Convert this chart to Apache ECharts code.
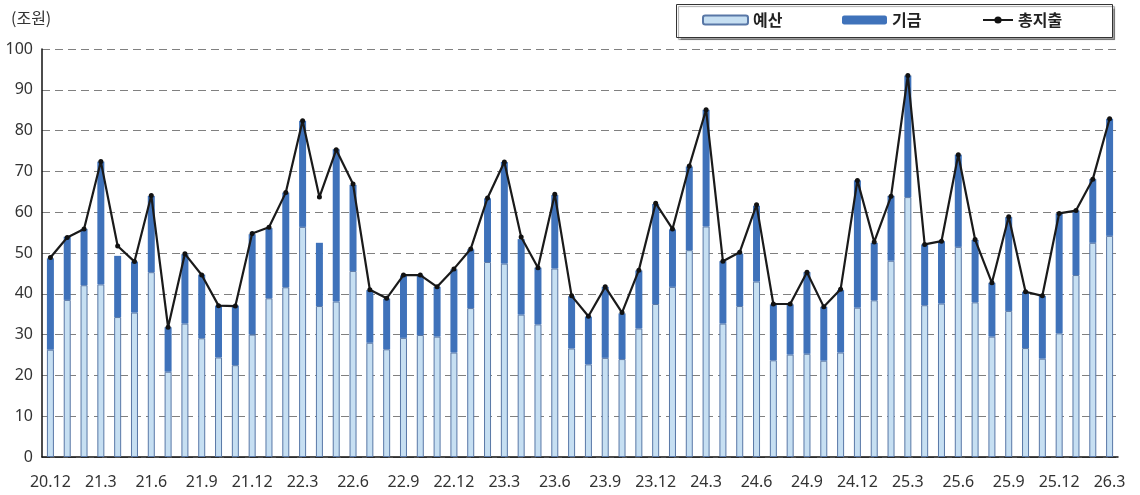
<!DOCTYPE html>
<html>
<head>
<meta charset="utf-8">
<script src="https://cdn.jsdelivr.net/npm/echarts@6/dist/echarts.min.js"></script>
<style>
html,body{margin:0;padding:0;background:#fff;}
#c{width:1140px;height:495px;}
</style>
</head>
<body>
<div id="c"></div>
<script>
const categories = ['20.12','21.1','21.2','21.3','21.4','21.5','21.6','21.7','21.8','21.9','21.10','21.11','21.12',
'22.1','22.2','22.3','22.4','22.5','22.6','22.7','22.8','22.9','22.10','22.11','22.12',
'23.1','23.2','23.3','23.4','23.5','23.6','23.7','23.8','23.9','23.10','23.11','23.12',
'24.1','24.2','24.3','24.4','24.5','24.6','24.7','24.8','24.9','24.10','24.11','24.12',
'25.1','25.2','25.3','25.4','25.5','25.6','25.7','25.8','25.9','25.10','25.11','25.12',
'26.1','26.2','26.3'];
const budget = [26.3,38.5,42.1,42.3,34.3,35.4,45.3,20.9,32.7,29.1,24.4,22.5,30.0,
38.9,41.6,56.4,37.0,38.1,45.6,28.0,26.4,29.2,29.9,29.5,25.6,
36.5,47.8,47.4,34.9,32.5,46.2,26.6,22.7,24.3,24.0,31.5,37.5,
41.7,50.7,56.5,32.7,37.0,43.0,23.7,25.1,25.3,23.6,25.6,36.6,
38.4,48.1,63.7,37.2,37.6,51.5,37.9,29.5,35.8,26.7,24.1,30.3,
44.6,52.5,54.2];
const fund = [22.4,15.5,13.8,30.1,15.0,12.5,18.7,10.9,17.0,15.6,12.7,14.6,24.6,
17.2,23.2,26.0,15.5,37.3,21.1,12.9,12.4,15.3,14.6,12.2,20.4,
14.4,15.6,24.9,18.5,13.9,18.0,12.8,11.7,17.4,11.2,14.2,24.5,
14.1,20.5,28.6,15.3,12.9,18.6,13.7,12.3,20.0,13.2,15.3,31.2,
14.1,15.9,29.8,14.9,15.3,22.6,15.3,13.2,23.0,13.8,15.4,29.4,
15.8,15.6,28.7];
const total = [48.9,53.8,55.9,72.4,51.7,47.9,64.1,31.8,49.8,44.6,37.1,37.0,54.8,
56.3,64.8,82.4,63.7,75.3,66.9,41.0,38.9,44.6,44.6,41.7,46.1,
51.0,63.5,72.3,53.9,46.4,64.4,39.5,34.5,41.7,35.4,45.8,62.2,
55.9,71.3,85.1,48.0,50.2,61.8,37.5,37.5,45.3,36.8,41.1,67.8,
52.7,63.9,93.5,52.1,52.9,74.1,53.3,42.7,58.9,40.5,39.5,59.7,
60.4,68.1,82.9];
const yTicks = [0,10,20,30,40,50,60,70,80,90,100];
const seriesNames = ['예산','기금','총지출'];
const unitLabel = '(조원)';

const chart = echarts.init(document.getElementById('c'), null, {renderer:'canvas'});
const baseFont = "'Noto Sans', 'Noto Sans CJK KR', sans-serif";
const legendText = {fontFamily:"'Noto Sans CJK KR', sans-serif", fontSize:16, fontWeight:'bold', color:'#222'};
chart.setOption({
  animation:false,
  backgroundColor:'#fff',
  graphic:[
    {type:'rect', left:676, top:4, shape:{width:436, height:33},
     style:{fill:'#fff', stroke:'#333', lineWidth:1, shadowColor:'rgba(0,0,0,0.35)', shadowOffsetX:2, shadowOffsetY:2, shadowBlur:1}, z:-1},
    {type:'text', left:11, top:10, style:{text:unitLabel, fontSize:16, fontFamily:"'Noto Sans CJK KR', sans-serif", fill:'#333'}}
  ],
  legend:[
    {data:[seriesNames[0]], left:702, top:12, padding:0, itemWidth:45, itemHeight:9, itemGap:10, textStyle:legendText, z:10},
    {data:[seriesNames[1]], left:842, top:12, padding:0, itemWidth:45, itemHeight:9, itemGap:10, textStyle:legendText, z:10},
    {data:[seriesNames[2]], left:982, top:12, padding:0, itemWidth:30, itemHeight:9, itemGap:10, textStyle:legendText, z:10}
  ],
  grid:{left:42, right:22, top:49, bottom:38, containLabel:false},
  xAxis:{
    type:'category', data:categories, boundaryGap:true,
    axisLine:{lineStyle:{color:'#111', width:1.5}},
    axisTick:{show:false},
    axisLabel:{interval:2, margin:17, fontSize:16, color:'#333', fontFamily:baseFont}
  },
  yAxis:{
    type:'value', min:0, max:100, interval:10,
    axisLine:{show:true, lineStyle:{color:'#111', width:1.5}},
    axisTick:{show:false},
    axisLabel:{margin:9, fontSize:16, color:'#333', fontFamily:baseFont,
      formatter:function(v){return yTicks.indexOf(v)>=0 ? String(v) : '';}},
    splitLine:{show:true, lineStyle:{color:'#808080', type:[8,5], width:1.2}}
  },
  series:[
    {name:seriesNames[0], type:'bar', stack:'s', data:budget, barWidth:7,
     itemStyle:{color:'#c6dff2', borderColor:'#5877a6', borderWidth:1}},
    {name:seriesNames[1], type:'bar', stack:'s', data:fund, barWidth:7,
     itemStyle:{color:'#3f72ba', borderColor:'#3f72ba', borderWidth:0}},
    {name:seriesNames[2], type:'line', data:total, symbol:'circle', symbolSize:5,
     lineStyle:{color:'#1a1a1a', width:2.2}, itemStyle:{color:'#111'}, z:5}
  ]
});
</script>
</body>
</html>
